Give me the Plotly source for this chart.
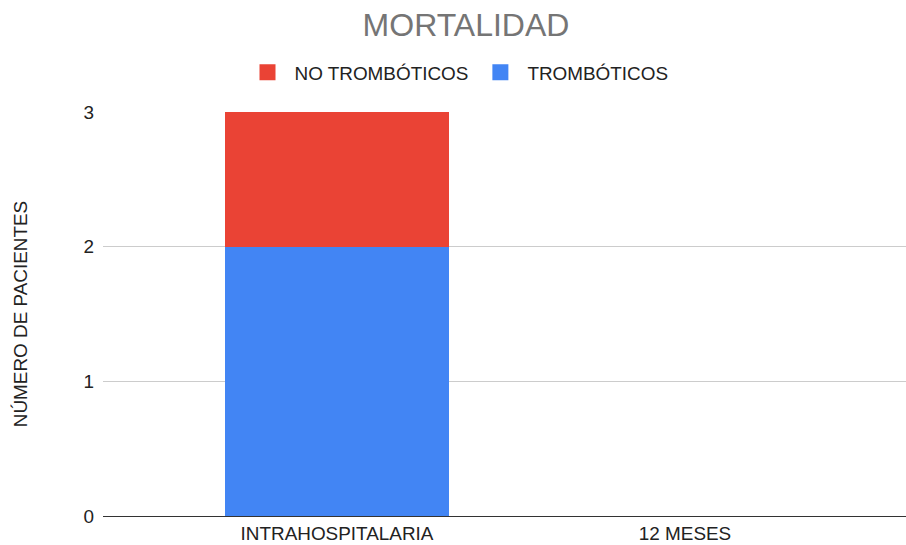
import plotly.graph_objects as go

categories = ["INTRAHOSPITALARIA", "12 MESES"]
tromboticos = [2, 0]
no_tromboticos = [1, 0]
y_ticks = [0, 1, 2, 3]

FONT = "Liberation Sans, Arial, sans-serif"
BLUE = "#4285F4"
RED = "#EA4335"
FS = 18.9

fig = go.Figure()
fig.add_trace(go.Bar(x=categories, y=tromboticos, name="TROMBÓTICOS", showlegend=False,
                     marker=dict(color=BLUE, line=dict(width=0)), width=0.644))
fig.add_trace(go.Bar(x=categories, y=no_tromboticos, name="NO TROMBÓTICOS", showlegend=False,
                     marker=dict(color=RED, line=dict(width=0)), width=0.644))
# legend entries (square swatches)
for name, col in [("NO TROMBÓTICOS", RED), ("TROMBÓTICOS", BLUE)]:
    fig.add_trace(go.Scatter(x=[categories[0]], y=[None], mode="markers", name=name,
                             marker=dict(symbol="square", size=16, color=col, line=dict(width=0)),
                             hoverinfo="skip"))

fig.update_layout(
    width=906, height=545,
    barmode="stack",
    paper_bgcolor="white", plot_bgcolor="white",
    margin=dict(l=103, r=0, t=112, b=29, autoexpand=False),
    font=dict(family=FONT, color="#222222", size=FS),
    title=dict(text="MORTALIDAD", x=466/906, xref="container", xanchor="center",
               y=1 - 25/545, yref="container", yanchor="middle",
               font=dict(size=32, color="#757575", family=FONT)),
    legend=dict(orientation="h", x=457/906, xref="container", xanchor="center",
                y=1 - 72.5/545, yref="container", yanchor="middle",
                traceorder="normal", font=dict(size=FS, color="#222222", family=FONT),
                itemwidth=44),
    showlegend=True,
    bargap=0.356,
)
fig.update_xaxes(type="category", range=[-0.6724, 1.635], showgrid=False, showline=True, automargin=False,
                 linecolor="#333333", linewidth=1, ticks="", ticklabelstandoff=0,
                 tickfont=dict(size=FS, color="#222222"))
fig.update_yaxes(range=[0, 3], tickvals=y_ticks, showgrid=True, gridcolor="#cccccc", automargin=False,
                 zeroline=False, showline=False, ticklabelstandoff=8,
                 tickfont=dict(size=FS, color="#222222"),
                 title=dict(text="NÚMERO DE PACIENTES", font=dict(size=FS, color="#222222"), standoff=50))

fig.write_html("out.html", config={"displayModeBar": False},
               post_script="document.body.style.margin='0';document.body.style.overflow='hidden';")
